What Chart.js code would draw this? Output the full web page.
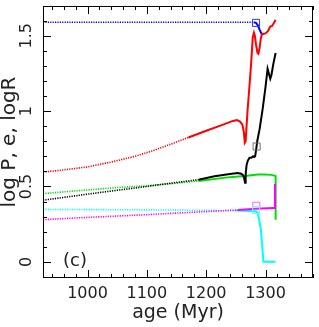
<!DOCTYPE html>
<html>
<head>
<meta charset="utf-8">
<script src="https://cdn.jsdelivr.net/npm/chart.js@4.4.1/dist/chart.umd.min.js"></script>
<style>
  html, body { margin: 0; padding: 0; background: #fff; }
</style>
</head>
<body>
<canvas id="chart" width="319" height="327"></canvas>
<script>
// axis ranges and tick labels
const X_MIN = 925, X_MAX = 1380;
const Y_MIN = -0.107, Y_MAX = 1.697;
const X_LABELS = [1000, 1100, 1200, 1300];
const Y_LABELS = [0, 0.5, 1, 1.5];

// blue track
const blueAge = [925, 1100, 1280, 1284, 1287, 1290, 1293, 1295];
const blueVal = [1.589, 1.589, 1.589, 1.585, 1.57, 1.54, 1.515, 1.513];

// red track
const redAge = [925, 960, 1000, 1040, 1080, 1110, 1140, 1170, 1200, 1225, 1245, 1252, 1257, 1261,
  1263.5, 1265, 1266.5, 1268, 1270, 1273, 1276, 1278.5, 1280.5, 1282, 1284, 1286.5, 1288, 1290,
  1292, 1294, 1300, 1304, 1308, 1311, 1314, 1317];
const redVal = [0.595, 0.61, 0.63, 0.662, 0.70, 0.737, 0.78, 0.825, 0.87, 0.905, 0.935, 0.94, 0.93, 0.91,
  0.86, 0.79, 0.80, 0.90, 1.02, 1.17, 1.33, 1.49, 1.52, 1.50, 1.44, 1.385, 1.38, 1.42,
  1.48, 1.51, 1.515, 1.53, 1.56, 1.565, 1.585, 1.605];

// black track
const blackAge = [925, 1000, 1050, 1100, 1137, 1187, 1214, 1240, 1253, 1259, 1262, 1264, 1265.5,
  1266.5, 1268, 1270, 1273, 1276, 1279, 1281, 1282.5, 1284, 1286, 1290, 1295, 1300, 1303.5,
  1308, 1310, 1313, 1317];
const blackVal = [0.409, 0.449, 0.475, 0.50, 0.52, 0.545, 0.568, 0.583, 0.59, 0.585, 0.575, 0.555, 0.525,
  0.58, 0.64, 0.67, 0.69, 0.69, 0.70, 0.695, 0.70, 0.74, 0.80, 0.88, 1.01, 1.16, 1.28,
  1.215, 1.24, 1.31, 1.385];

// green track
const greenAge = [925, 1000, 1050, 1100, 1137, 1187, 1240, 1265, 1287, 1298, 1310, 1317, 1317];
const greenVal = [0.453, 0.477, 0.493, 0.505, 0.517, 0.536, 0.562, 0.570, 0.58, 0.58, 0.577, 0.569, 0.28];

// cyan track
const cyanAge = [925, 1100, 1250, 1284, 1287, 1292, 1296.5, 1317];
const cyanVal = [0.348, 0.345, 0.340, 0.335, 0.325, 0.22, 0.0, 0.0];

// magenta track
const magentaAge = [925, 1000, 1100, 1137, 1253, 1284, 1313, 1316, 1316];
const magentaVal = [0.28, 0.295, 0.313, 0.321, 0.344, 0.352, 0.357, 0.357, 0.516];

// open square markers
const markAge = [1284, 1285, 1284.5, 1284];
const markVal = [1.585, 0.765, 0.372, 0.345];
const markColors = ["#3030ff", "#707070", "#ff60ff", "#60ffff"];

function pts(ages, vals) {
  return ages.map((a, i) => ({ x: a, y: vals[i] }));
}

// early (sparse) part of each track is dotted
function seg(until) {
  return {
    borderDash: (c) => (c.p0.parsed.x < until ? [1.2, 1.2] : undefined),
    borderWidth: (c) => (c.p0.parsed.x < until ? 1.6 : undefined),
  };
}

function track(ages, vals, color, until, order) {
  return {
    type: "line",
    data: pts(ages, vals),
    borderColor: color,
    borderWidth: 2,
    pointRadius: 0,
    fill: false,
    tension: 0,
    order,
    segment: seg(until),
  };
}

const axesPlugin = {
  id: "axes",
  afterDraw(chart) {
    const { ctx, chartArea: a, scales } = chart;
    const xs = scales.x, ys = scales.y;
    ctx.save();
    ctx.strokeStyle = "#000";
    ctx.lineWidth = 1;
    ctx.strokeRect(a.left + 0.5, a.top + 0.5, a.right - a.left - 1, a.bottom - a.top - 1);

    ctx.beginPath();
    for (let v = 940; v <= X_MAX; v += 20) {
      const px = Math.round(xs.getPixelForValue(v)) + 0.5;
      const len = v % 100 === 0 ? 8 : 4;
      ctx.moveTo(px, a.bottom); ctx.lineTo(px, a.bottom - len);
      ctx.moveTo(px, a.top); ctx.lineTo(px, a.top + len);
    }
    for (let i = -1; i <= 16; i++) {
      const v = i / 10;
      const py = Math.round(ys.getPixelForValue(v)) + 0.5;
      const len = i % 5 === 0 ? 8 : 4;
      ctx.moveTo(a.left, py); ctx.lineTo(a.left + len, py);
      ctx.moveTo(a.right, py); ctx.lineTo(a.right - len, py);
    }
    ctx.stroke();

    ctx.fillStyle = "#222";
    ctx.font = '16px "DejaVu Sans"';
    ctx.textAlign = "center";
    ctx.textBaseline = "middle";
    X_LABELS.forEach((v) => ctx.fillText(String(v), xs.getPixelForValue(v), 294));
    Y_LABELS.forEach((v) => {
      ctx.save();
      ctx.translate(27, ys.getPixelForValue(v));
      ctx.rotate(-Math.PI / 2);
      ctx.fillText(String(v), 0, 0);
      ctx.restore();
    });

    ctx.font = '19px "DejaVu Sans"';
    ctx.fillText("age (Myr)", (a.left + a.right) / 2, 313);
    ctx.save();
    ctx.translate(10, (a.top + a.bottom) / 2);
    ctx.rotate(-Math.PI / 2);
    ctx.font = '20px "DejaVu Sans"';
    ctx.fillText("log P, e, logR", 0, 0);
    ctx.restore();

    ctx.font = '18px "DejaVu Sans"';
    ctx.fillText("(c)", 75, 261);
    ctx.restore();
  },
};

new Chart(document.getElementById("chart"), {
  type: "line",
  data: {
    datasets: [
      track(blueAge, blueVal, "#0000ff", 1272, 6),
      track(redAge, redVal, "#ff0000", 1160, 1),
      track(greenAge, greenVal, "#00e000", 1140, 4),
      track(blackAge, blackVal, "#000000", 1140, 3),
      track(cyanAge, cyanVal, "#00ffff", 1200, 5),
      track(magentaAge, magentaVal, "#ff00ff", 1150, 2),
      {
        type: "scatter",
        data: pts(markAge, markVal),
        pointStyle: "rect",
        pointRadius: 5,
        pointBorderWidth: 1,
        pointBorderColor: markColors,
        pointBackgroundColor: "rgba(0,0,0,0)",
        order: 0,
      },
    ],
  },
  options: {
    responsive: false,
    animation: false,
    devicePixelRatio: 1,
    layout: { padding: { left: 43, top: 3, right: 3, bottom: 49 } },
    plugins: { legend: { display: false }, tooltip: { enabled: false } },
    scales: {
      x: { type: "linear", min: X_MIN, max: X_MAX, display: false },
      y: { type: "linear", min: Y_MIN, max: Y_MAX, display: false },
    },
  },
  plugins: [axesPlugin],
});
</script>
</body>
</html>
